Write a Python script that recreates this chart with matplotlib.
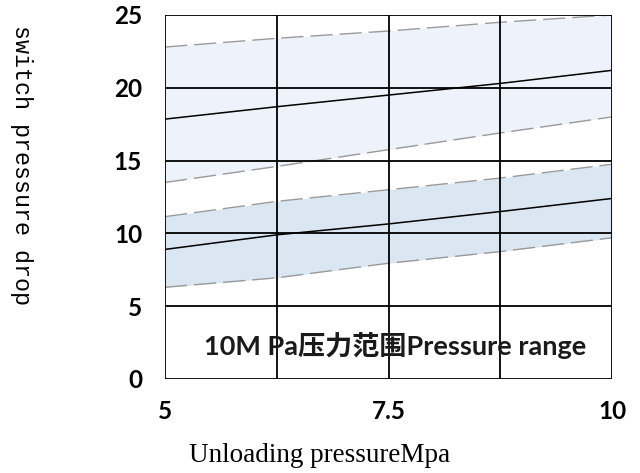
import matplotlib
matplotlib.use("Agg")
import matplotlib.pyplot as plt

# Data
x = [5, 6.25, 7.5, 8.75, 10]
upper_hi = [22.8, 23.4, 23.9, 24.5, 25.0]
upper_mid = [17.85, 18.7, 19.5, 20.3, 21.2]
upper_lo = [13.5, 14.6, 15.75, 16.9, 18.0]
lower_hi = [11.15, 12.2, 13.0, 13.8, 14.75]
lower_mid = [8.9, 9.9, 10.65, 11.5, 12.4]
lower_lo = [6.3, 6.95, 7.95, 8.75, 9.7]

xticks = [5, 7.5, 10]
xtick_labels = ["5", "7.5", "10"]
yticks = [0, 5, 10, 15, 20, 25]
xgrid = [5, 6.25, 7.5, 8.75, 10]

annotation = "10M Pa压力范围Pressure range"
xlabel = "Unloading pressureMpa"
ylabel = "switch pressure drop"

fig = plt.figure(figsize=(6.4, 4.73), dpi=100)
ax = fig.add_axes([165/640, 1 - 379/473, (612-165)/640, (379-15)/473])

ax.fill_between(x, upper_lo, upper_hi, color="#eef2fa", lw=0, zorder=1)
ax.fill_between(x, lower_lo, lower_hi, color="#dae6f2", lw=0, zorder=1)

dash = (0, (16, 5))
for ys in (upper_hi, upper_lo, lower_hi, lower_lo):
    ax.plot(x, ys, color="#9a9a9a", lw=1.0, linestyle=dash, zorder=2)
for ys in (upper_mid, lower_mid):
    ax.plot(x, ys, color="black", lw=1.1, zorder=3)

for gx in xgrid:
    ax.axvline(gx, color="black", lw=1.3, zorder=2.5)
for gy in yticks:
    ax.axhline(gy, color="black", lw=1.3, zorder=2.5)

ax.set_xlim(5, 10)
ax.set_ylim(0, 25)
for s in ax.spines.values():
    s.set_visible(False)

ax.set_xticks(xticks)
ax.set_xticklabels(xtick_labels)
ax.set_yticks(yticks)
ax.tick_params(length=0, labelsize=17.5)
ax.tick_params(axis="x", pad=15)
ax.tick_params(axis="y", pad=16.5)
for lab in ax.get_xticklabels() + ax.get_yticklabels():
    lab.set_fontfamily("Lato")
    lab.set_fontweight("bold")

ax.text(7.57, 2.3, annotation, ha="center", va="center", fontsize=19.5,
        family=["Lato", "Noto Sans CJK SC"], fontweight="bold", color="#1a1a1a", zorder=4)

fig.text(320/640, 1 - 455/473, xlabel, ha="center", va="center",
         fontsize=19.5, family="Liberation Serif")
fig.text(21/640, 1 - 165/473, ylabel, ha="center", va="center",
         fontsize=16.8, family="Liberation Mono", rotation=-90)

fig.savefig("out.png", dpi=100, facecolor="white")
